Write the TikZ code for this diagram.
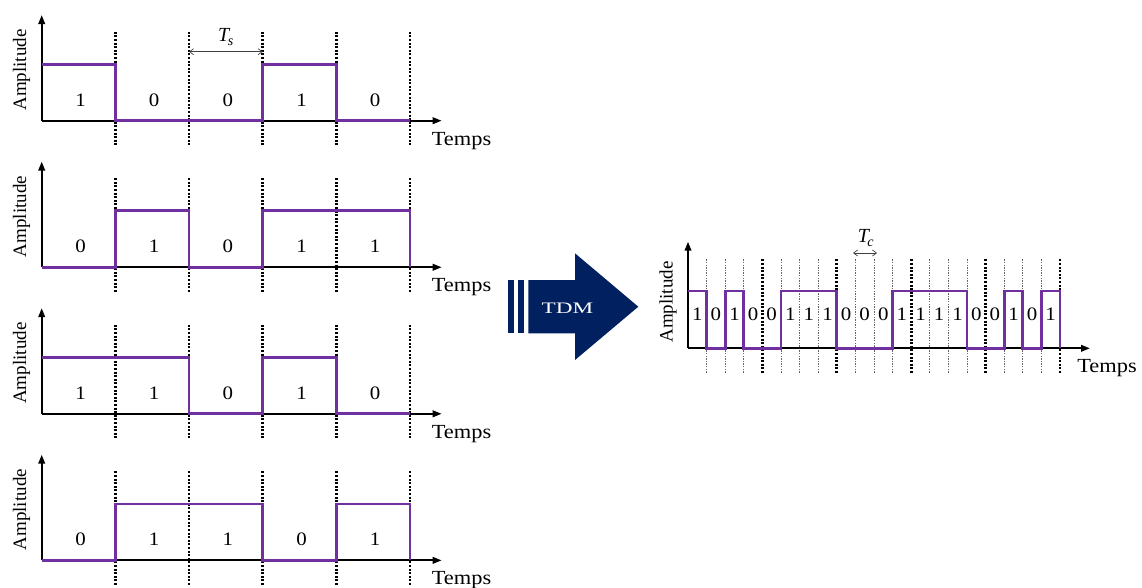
\documentclass[tikz,border=0pt]{standalone}
\usepackage{fontspec}
\setmainfont{Liberation Serif}
\usetikzlibrary{arrows.meta}
\definecolor{sig}{RGB}{112,48,160}
\definecolor{navy}{RGB}{0,32,96}

\begin{document}
\begin{tikzpicture}[x=1pt,y=-1pt,
  axisline/.style={line width=2pt,-{Triangle[length=9pt,width=6.5pt]}},
  sigline/.style={draw=sig,line width=2.8pt,line join=miter},
  framesep/.style={line width=2.8pt,dash pattern=on 2pt off 1.6pt},
  chipsep/.style={black!60,line width=0.8pt,dash pattern=on 1.4pt off 1.2pt},
  period/.style={black!75,line width=0.7pt,{Straight Barb[length=4pt,width=6pt]}-{Straight Barb[length=4pt,width=6pt]}},
  bitlabel/.style={font=\fontsize{19}{19}\selectfont,xscale=1.1,inner sep=0pt,anchor=base},
  axlabel/.style={font=\fontsize{20}{20}\selectfont,xscale=1.12,inner sep=0pt,anchor=base},
  amplabel/.style={font=\fontsize{19}{19}\selectfont,rotate=90,inner sep=0pt},
  perlabel/.style={font=\fontsize{20}{20}\selectfont\itshape,inner sep=0pt}
]
\useasboundingbox (0,0) rectangle (1142,587);

% ---------- four input channels ----------
\foreach \f/\bits [count=\k from 0] in {1/{1,0,0,1,0},0/{0,1,0,1,1},1/{1,1,0,1,0},0/{0,1,1,0,1}} {
  \begin{scope}[shift={(0,146.55*\k)}]
    % slot boundaries
    \foreach \i in {1,...,5}
      \draw[framesep] ({41.7+73.66*\i},31.7) -- ({41.7+73.66*\i},145);
    % axes
    \coordinate (o\k) at (41.7,120.7);
    \coordinate (ytop\k) at (41.7,15);
    \coordinate (xend\k) at (441.7,120.7);
    \draw[axisline] (o\k) -- (ytop\k);
    \draw[axisline] (o\k) -- (xend\k);
    % signal
    \draw[sigline] (41.7,{120.7-56.4*\f}) \foreach \b [count=\i] in \bits {
        -- ({41.7+73.66*(\i-1)},{120.7-56.4*\b}) -- ({41.7+73.66*\i},{120.7-56.4*\b})
      } -- (410,120.7);
    % bit values
    \foreach \b [count=\i] in \bits
      \node[bitlabel] (bit\k-\i) at ({41.7+73.66*(\i-0.5)+2},106) {\b};
    \node[axlabel] (temps\k) at (461.5,145) {Temps};
    \node[amplabel] (amp\k) at (21.5,70) {Amplitude};
  \end{scope}
}

% ---------- symbol period ----------
\coordinate (tsl) at (189.0,51.7);
\coordinate (tsr) at (262.7,51.7);
\draw[period] (tsl) -- (tsr);
\node[perlabel] (ts) at (226,37) {T\textsubscript{\kern-1.5pt s}};

% ---------- TDM block arrow ----------
\fill[navy] (508.3,280) rectangle (513.8,333.3);
\fill[navy] (517.6,280) rectangle (524,333.3);
\fill[navy] (528.3,280) -- (575,280) -- (575,253.3) -- (638.3,306.7)
  -- (575,360) -- (575,333.3) -- (528.3,333.3) -- cycle;
\node[font=\fontsize{16}{16}\selectfont,text=white,xscale=1.45,inner sep=0pt] (tdm) at (567.5,308.5) {TDM};

% ---------- multiplexed signal ----------
\def\xo{688}
\def\cw{18.6}
\foreach \i in {1,...,20} {
  \pgfmathtruncatemacro{\r}{mod(\i,4)}
  \ifnum\r=0
    \draw[framesep] ({\xo+\cw*\i},259.3) -- ({\xo+\cw*\i},373.3);
  \else
    \draw[chipsep] ({\xo+\cw*\i},259.3) -- ({\xo+\cw*\i},373.3);
  \fi
}
\coordinate (mo) at (\xo,348.3);
\coordinate (mytop) at (\xo,241.7);
\coordinate (mxend) at (1090,348.3);
\draw[axisline] (mo) -- (mytop);
\draw[axisline] (mo) -- (mxend);
\def\mbits{1,0,1,0,0,1,1,1,0,0,0,1,1,1,1,0,0,1,0,1}
\draw[sigline] (\xo,291) \foreach \b [count=\i] in \mbits {
    -- ({\xo+\cw*(\i-1)},{348.3-57.3*\b}) -- ({\xo+\cw*\i},{348.3-57.3*\b})
  } -- ({\xo+\cw*20},348.3);
\foreach \b [count=\i] in \mbits
  \node[bitlabel] (mbit\i) at ({\xo+\cw*(\i-0.5)},320) {\b};
\node[axlabel] (mtemps) at (1107,372) {Temps};
\node[amplabel] (mamp) at (668,302) {Amplitude};

\coordinate (tcl) at (853,253);
\coordinate (tcr) at (877,253);
\draw[period] (tcl) -- (tcr);
\node[perlabel] (tc) at (866,238) {T\textsubscript{\kern-1.5pt c}};
\end{tikzpicture}
\end{document}
